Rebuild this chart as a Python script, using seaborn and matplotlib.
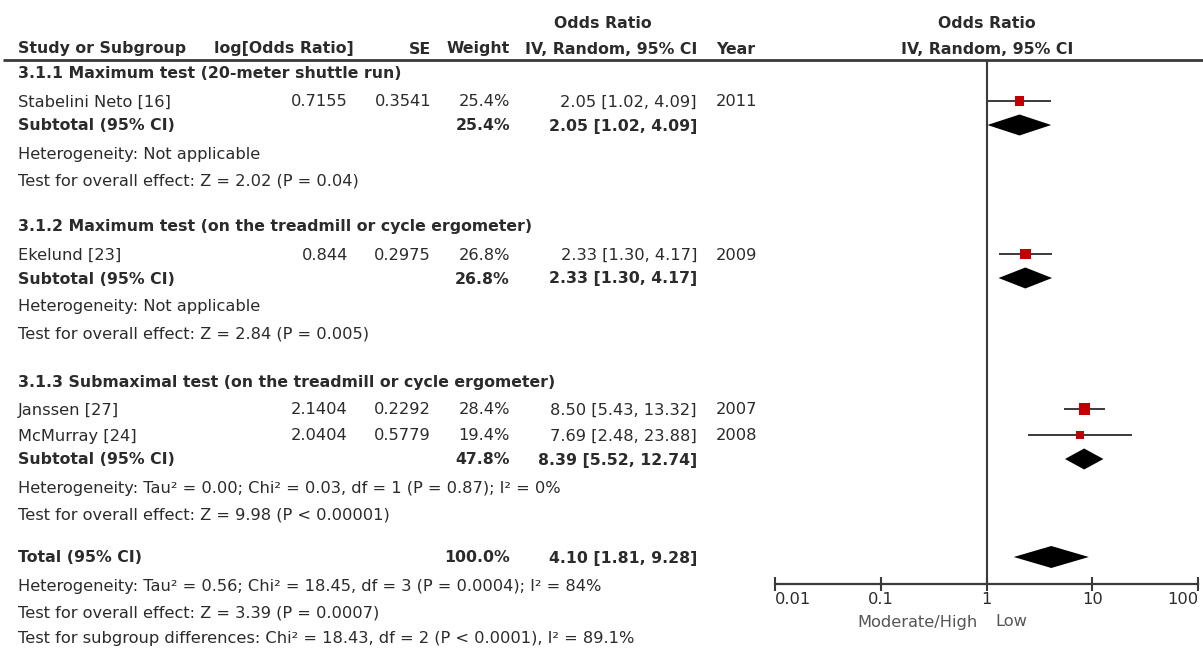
import matplotlib
matplotlib.use("Agg")
import matplotlib.pyplot as plt
import numpy as np
import pandas as pd
import seaborn as sns

# ---- data -------------------------------------------------------------
study_names = ["Stabelini Neto [16]", "Ekelund [23]", "Janssen [27]", "McMurray [24]"]
study_group = ["3.1.1", "3.1.2", "3.1.3", "3.1.3"]
log_or = ["0.7155", "0.844", "2.1404", "2.0404"]
se = ["0.3541", "0.2975", "0.2292", "0.5779"]
weight = [25.4, 26.8, 28.4, 19.4]
or_est = [2.05, 2.33, 8.50, 7.69]
or_low = [1.02, 1.30, 5.43, 2.48]
or_high = [4.09, 4.17, 13.32, 23.88]
years = ["2011", "2009", "2007", "2008"]

group_ids = ["3.1.1", "3.1.2", "3.1.3"]
group_titles = [
    "3.1.1 Maximum test (20-meter shuttle run)",
    "3.1.2 Maximum test (on the treadmill or cycle ergometer)",
    "3.1.3 Submaximal test (on the treadmill or cycle ergometer)",
]
sub_weight = [25.4, 26.8, 47.8]
sub_est = [2.05, 2.33, 8.39]
sub_low = [1.02, 1.30, 5.52]
sub_high = [4.09, 4.17, 12.74]
sub_het = [
    "Heterogeneity: Not applicable",
    "Heterogeneity: Not applicable",
    "Heterogeneity: Tau\u00b2 = 0.00; Chi\u00b2 = 0.03, df = 1 (P = 0.87); I\u00b2 = 0%",
]
sub_effect = [
    "Test for overall effect: Z = 2.02 (P = 0.04)",
    "Test for overall effect: Z = 2.84 (P = 0.005)",
    "Test for overall effect: Z = 9.98 (P < 0.00001)",
]

total_weight = 100.0
total_est, total_low, total_high = 4.10, 1.81, 9.28
total_notes = [
    "Heterogeneity: Tau\u00b2 = 0.56; Chi\u00b2 = 18.45, df = 3 (P = 0.0004); I\u00b2 = 84%",
    "Test for overall effect: Z = 3.39 (P = 0.0007)",
    "Test for subgroup differences: Chi\u00b2 = 18.43, df = 2 (P < 0.0001), I\u00b2 = 89.1%",
]

x_ticks = [0.01, 0.1, 1, 10, 100]
x_tick_labels = ["0.01", "0.1", "1", "10", "100"]
favours = ["Moderate/High", "Low"]

# ---- layout (pixel rows/columns) --------------------------------------
W, H = 1203, 648
TXT = "#2b2b2b"
LINE = "#3a3a3a"
FONT = "DejaVu Sans"
FS = 11.7      # regular text
FS_B = 11.3    # bold text
BASE = 5.5     # baseline offset below a row's centre

sns.set_theme(style="white")
plt.rcParams["font.family"] = [FONT]

fig = plt.figure(figsize=(W / 100, H / 100), dpi=100)
tx = fig.add_axes([0, 0, 1, 1])
tx.set_xlim(0, W)
tx.set_ylim(H, 0)
tx.axis("off")

col_study = 18
col_log = 354
col_se = 431
col_w = 510
col_ci = 697
col_year = 716


def put(x, y, s, ha="left", bold=False, color=TXT):
    tx.text(x, y + BASE, s, ha=ha, va="baseline", fontsize=FS_B if bold else FS,
            color=color, fontweight="bold" if bold else "normal")


def ci_text(e, lo, hi):
    return f"{e:.2f} [{lo:.2f}, {hi:.2f}]"


# header
put(603, 22, "Odds Ratio", ha="center", bold=True)
put(col_study, 48, "Study or Subgroup", bold=True)
put(col_log, 48, "log[Odds Ratio]", ha="right", bold=True)
put(col_se, 48, "SE", ha="right", bold=True)
put(col_w, 48, "Weight", ha="right", bold=True)
put(col_ci, 48, "IV, Random, 95% CI", ha="right", bold=True)
put(col_year, 48, "Year", bold=True)
put(987, 22, "Odds Ratio", ha="center", bold=True)
put(987, 48, "IV, Random, 95% CI", ha="center", bold=True)
tx.plot([3, W], [60, 60], color=LINE, lw=2.0, solid_capstyle="butt")

# row positions for each block
group_top = [73, 226, 381]
study_rows = []
sub_rows = []
for g, gid in enumerate(group_ids):
    y = group_top[g]
    put(col_study, y, group_titles[g], bold=True)
    y += 28
    for i, grp in enumerate(study_group):
        if grp != gid:
            continue
        study_rows.append(y)
        put(col_study, y, study_names[i])
        put(col_log - 6, y, log_or[i], ha="right")
        put(col_se, y, se[i], ha="right")
        put(col_w, y, f"{weight[i]:.1f}%", ha="right")
        put(col_ci, y, ci_text(or_est[i], or_low[i], or_high[i]), ha="right")
        put(col_year, y, years[i])
        y += 26
    y -= 2
    sub_rows.append(y)
    put(col_study, y, "Subtotal (95% CI)", bold=True)
    put(col_w, y, f"{sub_weight[g]:.1f}%", ha="right", bold=True)
    put(col_ci, y, ci_text(sub_est[g], sub_low[g], sub_high[g]), ha="right", bold=True)
    put(col_study, y + 28, sub_het[g])
    put(col_study, y + 55, sub_effect[g])

total_row = 557
put(col_study, total_row, "Total (95% CI)", bold=True)
put(col_w, total_row, f"{total_weight:.1f}%", ha="right", bold=True)
put(col_ci, total_row, ci_text(total_est, total_low, total_high), ha="right", bold=True)
for k, note in enumerate(total_notes):
    put(col_study, 585 + 26.5 * k, note)

# ---- forest panel -----------------------------------------------------
x0, x1, ytop, ybot = 775, 1198, 60, 584
ax = fig.add_axes([x0 / W, (H - ybot) / H, (x1 - x0) / W, (ybot - ytop) / H])
ax.patch.set_alpha(0)
ax.set_xscale("log")
ax.set_xlim(x_ticks[0], x_ticks[-1])
ax.set_ylim(ybot, ytop)
for side in ["top", "left", "right"]:
    ax.spines[side].set_visible(False)
ax.spines["bottom"].set_color(LINE)
ax.spines["bottom"].set_linewidth(1.6)
ax.axvline(1, color=LINE, lw=1.5, zorder=1)

df = pd.DataFrame({"study": study_names, "or": or_est, "lo": or_low,
                   "hi": or_high, "weight": weight, "row": study_rows})
ax.hlines(df["row"], df["lo"], df["hi"], color=LINE, lw=1.4, zorder=2)
# square side proportional to study weight
marker_sizes = {w: (w * 0.39 * 0.72) ** 2 for w in weight}
sns.scatterplot(data=df, x="or", y="row", size="weight", sizes=marker_sizes,
                marker="s", color="#c00000", linewidth=0, legend=False,
                ax=ax, zorder=3)


def diamond(est, lo, hi, y, h=21):
    ax.fill([lo, est, hi, est], [y, y - h / 2, y, y + h / 2],
            color="black", lw=0, zorder=3)


for g in range(len(group_ids)):
    diamond(sub_est[g], sub_low[g], sub_high[g], sub_rows[g])
diamond(total_est, total_low, total_high, total_row, h=22)

ax.set_xticks(x_ticks)
ax.set_xticklabels(x_tick_labels)
ax.minorticks_off()
ax.tick_params(axis="x", direction="inout", length=10, width=1.5,
               color=LINE, labelsize=FS, labelcolor=TXT, pad=1, bottom=True)
ax.tick_params(axis="y", left=False, labelleft=False)
labs = ax.get_xticklabels()
labs[0].set_ha("left")
labs[-1].set_ha("right")
ax.set_xlabel("")
ax.set_ylabel("")

put(978, 621, favours[0], ha="right", color="#555555")
put(995, 621, favours[1], ha="left", color="#555555")

fig.savefig("out.png", dpi=100)
